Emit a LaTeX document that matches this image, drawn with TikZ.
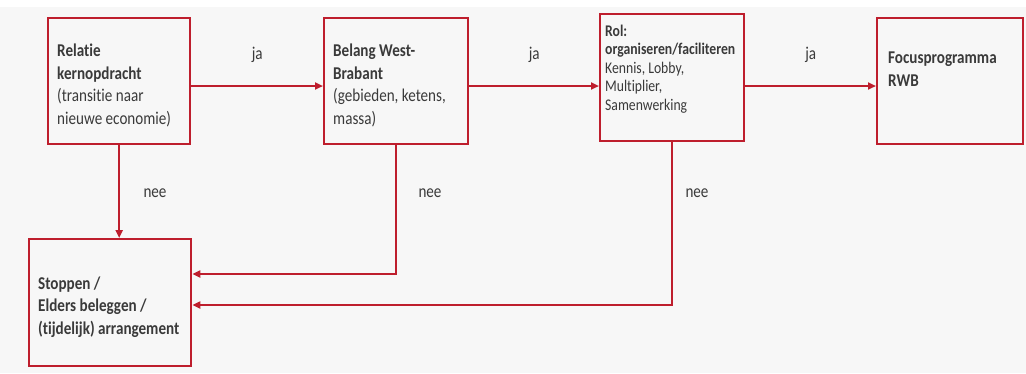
\documentclass[tikz,border=0pt]{standalone}
\usepackage{fontspec}
\setmainfont{Carlito}[FakeStretch=0.84, Ligatures=NoCommon]
\usepackage{tikz}
\usetikzlibrary{positioning,arrows.meta}

\definecolor{rwbrood}{HTML}{BE1E2D}
\definecolor{achtergrond}{HTML}{F7F7F7}
\definecolor{tekstgrijs}{HTML}{3A3A3A}

\begin{document}
\begin{tikzpicture}[x=1pt, y=-1pt]
        \tikzstyle{kader}=[draw=rwbrood, line width=2.4pt, anchor=north west, inner sep=0pt]
        \tikzstyle{tekst}=[align=left, inner sep=0pt, text=tekstgrijs, font=\fontsize{18}{22.5}\selectfont]
        \tikzstyle{klein}=[tekst, font=\fontsize{16.3}{18.5}\selectfont]
        \tikzstyle{pijl}=[draw=rwbrood, line width=2.2pt, -{Triangle[length=8pt, width=7pt]}]
        \tikzstyle{label}=[text=tekstgrijs, inner sep=0pt, font=\fontsize{18}{22}\selectfont]

        \fill[achtergrond] (0,0) rectangle (1026,373);
        \fill[white] (0,0) rectangle (1026,7);
        \useasboundingbox (0,0) rectangle (1026,373);

        \node (relatie) [kader, minimum width=142pt, minimum height=126pt] at (47,17) {};
        \node (belang)  [kader, minimum width=144pt, minimum height=126pt] at (323,17) {};
        \node (rol)     [kader, minimum width=144pt, minimum height=127pt] at (599,13) {};
        \node (focus)   [kader, minimum width=146pt, minimum height=126pt] at (876,17) {};
        \node (stoppen) [kader, minimum width=162pt, minimum height=127pt] at (28,238) {};

        \node (relatie-tekst) [tekst, below right=27pt and 10pt of relatie.north west]
            {\textbf{Relatie}\\\textbf{kernopdracht}\\(transitie naar\\nieuwe economie)};
        \node (belang-tekst) [tekst, below right=27pt and 10pt of belang.north west]
            {\textbf{Belang West-}\\\textbf{Brabant}\\(gebieden, ketens,\\massa)};
        \node (rol-tekst) [klein, below right=11.5pt and 6pt of rol.north west]
            {\textbf{Rol:}\\\textbf{organiseren/faciliteren}\\Kennis, Lobby,\\Multiplier,\\Samenwerking};
        \node (focus-tekst) [tekst, below right=35pt and 12pt of focus.north west]
            {\textbf{Focusprogramma}\\\textbf{RWB}};
        \node (stoppen-tekst) [tekst, below right=38.5pt and 10pt of stoppen.north west]
            {\textbf{Stoppen /}\\\textbf{Elders beleggen /}\\\textbf{(tijdelijk) arrangement}};

        \coordinate (jalijn) at (0,86);
        \coordinate (neelijn1) at (0,274);
        \coordinate (neelijn2) at (0,305);

        \draw[pijl] (relatie.east |- jalijn) -- node[label, midway, yshift=31pt] (ja1) {ja} (belang.west |- jalijn);
        \draw[pijl] (belang.east |- jalijn) -- node[label, midway, yshift=31pt] (ja2) {ja} (rol.west |- jalijn);
        \draw[pijl] (rol.east |- jalijn) -- node[label, midway, yshift=31pt] (ja3) {ja} (focus.west |- jalijn);

        \draw[pijl] (relatie.south) -- (relatie.south |- stoppen.north);
        \draw[pijl] (belang.south) |- (stoppen.east |- neelijn1);
        \draw[pijl] (rol.south) |- (stoppen.east |- neelijn2);

        \node (nee1) [label] at (155,193) {nee};
        \node (nee2) [label] at (430,193) {nee};
        \node (nee3) [label] at (697,193) {nee};
    \end{tikzpicture}
\end{document}
